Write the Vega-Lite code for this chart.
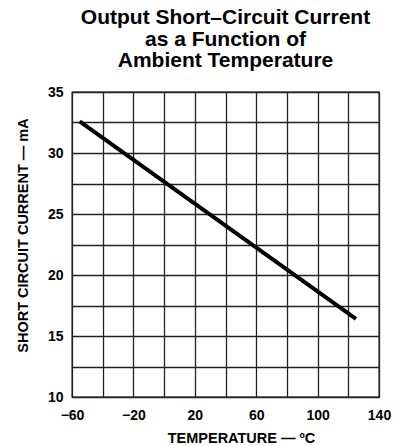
{
  "$schema": "https://vega.github.io/schema/vega-lite/v6.json",
  "autosize": "none",
  "width": 307,
  "height": 305,
  "padding": {"left": 72, "top": 92, "right": 22, "bottom": 49},
  "background": "white",
  "title": {
    "text": ["Output Short–Circuit Current", "as a Function of", "Ambient Temperature"],
    "font": "Liberation Sans",
    "fontSize": 21,
    "fontWeight": "bold",
    "lineHeight": 21.5,
    "anchor": "middle",
    "color": "#000",
    "offset": 14
  },
  "data": {
    "values": [
      {"temp": -55, "current": 32.6},
      {"temp": 125, "current": 16.4}
    ]
  },
  "mark": {"type": "line", "color": "#000", "strokeWidth": 4, "clip": false},
  "encoding": {
    "x": {
      "field": "temp",
      "type": "quantitative",
      "scale": {"domain": [-60, 140], "nice": false, "zero": false},
      "axis": {
        "values": [-60, -40, -20, 0, 20, 40, 60, 80, 100, 120, 140],
        "labelExpr": "(datum.value % 40 == 20 || datum.value % 40 == -20) ? replace(format(datum.value, 'd'), '-', '–') : ''",
        "title": "TEMPERATURE — ºC",
        "titleX": 169,
        "titleY": 45,
        "titleBaseline": "alphabetic",
        "labelPadding": 11
      }
    },
    "y": {
      "field": "current",
      "type": "quantitative",
      "scale": {"domain": [10, 35], "nice": false, "zero": false},
      "axis": {
        "values": [10, 12.5, 15, 17.5, 20, 22.5, 25, 27.5, 30, 32.5, 35],
        "labelExpr": "datum.value % 5 == 0 ? format(datum.value, 'd') : ''",
        "title": "SHORT CIRCUIT CURRENT — mA",
        "titleX": -49,
        "titleY": 143,
        "titleBaseline": "middle",
        "titleAlign": "center",
        "labelPadding": 9
      }
    }
  },
  "config": {
    "view": {"stroke": "#000", "strokeWidth": 1.3},
    "axis": {
      "grid": true,
      "gridColor": "#222",
      "gridOpacity": 1,
      "gridWidth": 1.3,
      "domain": false,
      "ticks": false,
      "labelFont": "Liberation Sans",
      "labelFontSize": 14,
      "labelFontWeight": "bold",
      "labelColor": "#000",
      "labelFlush": false,
      "labelOverlap": false,
      "labelBound": false,
      "titleFont": "Liberation Sans",
      "titleFontSize": 14.5,
      "titleFontWeight": "bold",
      "titleColor": "#000"
    }
  }
}
